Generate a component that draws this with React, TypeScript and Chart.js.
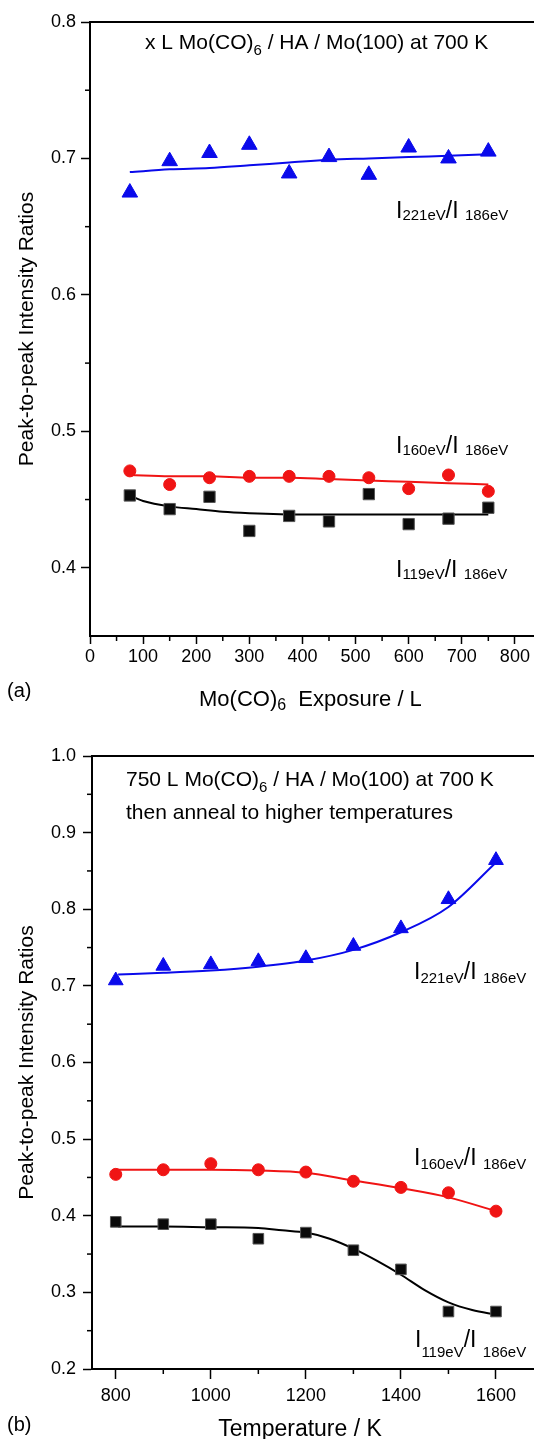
import React, { useEffect, useRef } from 'react';
import { Chart, registerables } from 'chart.js';

Chart.register(...registerables);

const FONT = '"Liberation Sans", Arial, Helvetica, sans-serif';

// ---------- Panel (a): exposure series ----------
const exposureL = [75, 150, 225, 300, 375, 450, 525, 600, 675, 750];
const ratioA221 = [0.675, 0.698, 0.704, 0.71, 0.689, 0.701, 0.688, 0.708, 0.7, 0.705];
const ratioA160 = [0.471, 0.461, 0.466, 0.467, 0.467, 0.467, 0.466, 0.458, 0.468, 0.456];
const ratioA119 = [0.453, 0.443, 0.452, 0.427, 0.438, 0.434, 0.454, 0.432, 0.436, 0.444];
const fitAX = [75, 150, 225, 300, 375, 450, 525, 600, 675, 750];
const fitA221 = [0.69, 0.692, 0.693, 0.695, 0.697, 0.699, 0.7, 0.701, 0.702, 0.703];
const fitA160 = [0.468, 0.467, 0.467, 0.466, 0.466, 0.465, 0.464, 0.463, 0.462, 0.461];
const fitA119X = [75, 100, 150, 200, 250, 300, 400, 500, 600, 700, 750];
const fitA119 = [0.453, 0.449, 0.445, 0.443, 0.441, 0.44, 0.439, 0.439, 0.439, 0.439, 0.439];
const exposureTicks = [0, 100, 200, 300, 400, 500, 600, 700, 800];
const exposureMinor = [50, 150, 250, 350, 450, 550, 650, 750];
const ratioATicks = [0.4, 0.5, 0.6, 0.7, 0.8];
const ratioAMinor = [0.45, 0.55, 0.65, 0.75];

// ---------- Panel (b): anneal temperature series ----------
const tempK = [800, 900, 1000, 1100, 1200, 1300, 1400, 1500, 1600];
const ratioB221 = [0.707, 0.726, 0.728, 0.732, 0.736, 0.752, 0.775, 0.813, 0.864];
const ratioB160 = [0.454, 0.46, 0.468, 0.46, 0.457, 0.445, 0.437, 0.43, 0.406];
const ratioB119 = [0.392, 0.389, 0.389, 0.37, 0.378, 0.355, 0.33, 0.275, 0.275];
const fitBX = [805, 900, 1000, 1100, 1200, 1300, 1400, 1500, 1600];
const fitB221 = [0.715, 0.717, 0.72, 0.725, 0.733, 0.747, 0.77, 0.803, 0.861];
const fitB160 = [0.46, 0.46, 0.46, 0.459, 0.456, 0.446, 0.436, 0.424, 0.406];
const fitB119X = [805, 900, 1000, 1100, 1150, 1200, 1250, 1300, 1350, 1400, 1450, 1500, 1550, 1600];
const fitB119 = [0.386, 0.386, 0.385, 0.384, 0.381, 0.378, 0.37, 0.357, 0.341, 0.323, 0.303, 0.287, 0.277, 0.271];
const tempTicks = [800, 1000, 1200, 1400, 1600];
const tempMinor = [900, 1100, 1300, 1500];
const ratioBTicks = [0.2, 0.3, 0.4, 0.5, 0.6, 0.7, 0.8, 0.9, 1.0];
const ratioBMinor = [0.25, 0.35, 0.45, 0.55, 0.65, 0.75, 0.85, 0.95];

const BLUE = 'rgb(10,10,235)';
const RED = 'rgb(240,20,20)';
const BLACK = '#000';

type Seg = [string, number, number];
type Note = { x: number; y: number; segs: Seg[]; align?: 'left' | 'center' };

function pts(xs: number[], ys: number[]) {
  return xs.map((x, i) => ({ x, y: ys[i] }));
}

function markers(label: string, xs: number[], ys: number[], style: string, color: string, radius: number, border: string) {
  return {
    label,
    data: pts(xs, ys),
    showLine: false,
    pointStyle: style,
    pointRadius: radius,
    pointBackgroundColor: color,
    pointBorderColor: border,
    pointBorderWidth: 1,
    order: 0,
  };
}

function fit(label: string, xs: number[], ys: number[], color: string) {
  return {
    label,
    data: pts(xs, ys),
    showLine: true,
    borderColor: color,
    borderWidth: 2,
    pointRadius: 0,
    cubicInterpolationMode: 'monotone',
    fill: false,
    order: 1,
  };
}

function segWidth(ctx: CanvasRenderingContext2D, segs: Seg[]) {
  let w = 0;
  for (const s of segs) {
    ctx.font = `${s[1]}px ${FONT}`;
    w += ctx.measureText(s[0]).width;
  }
  return w;
}

function drawSegs(ctx: CanvasRenderingContext2D, x: number, y: number, segs: Seg[]) {
  let cx = x;
  for (const s of segs) {
    ctx.font = `${s[1]}px ${FONT}`;
    ctx.fillText(s[0], cx, y + s[2]);
    cx += ctx.measureText(s[0]).width;
  }
}

type PanelSpec = {
  height: number;
  padTop: number;
  axisW: number;
  axisH: number;
  xMin: number;
  xMax: number;
  yMin: number;
  yMax: number;
  xTicks: number[];
  xMinor: number[];
  yTicks: number[];
  yMinor: number[];
  xTickLen: number;
  xPad: number;
  yTickLen: number;
  yPad: number;
  datasets: any[];
  notes: Note[];
  yTitle: string;
  yTitleX: number;
};

function zeroPad(s: any) {
  s.paddingLeft = 0;
  s.paddingRight = 0;
  s.paddingTop = 0;
  s.paddingBottom = 0;
}

function buildConfig(p: PanelSpec) {
  const extras = {
    id: 'extras',
    afterDraw(chart: any) {
      const ctx: CanvasRenderingContext2D = chart.ctx;
      const a = chart.chartArea;
      const xs = chart.scales.x;
      const ys = chart.scales.y;
      ctx.save();
      ctx.strokeStyle = '#000';
      ctx.lineWidth = 2;
      ctx.beginPath();
      ctx.moveTo(a.left - 1, a.top);
      ctx.lineTo(chart.width, a.top);
      ctx.stroke();
      ctx.lineWidth = 1.5;
      for (const v of p.xMinor) {
        const px = xs.getPixelForValue(v);
        if (px < a.left || px > a.right) continue;
        ctx.beginPath();
        ctx.moveTo(px, a.bottom);
        ctx.lineTo(px, a.bottom + 5);
        ctx.stroke();
      }
      for (const v of p.yMinor) {
        const py = ys.getPixelForValue(v);
        if (py < a.top || py > a.bottom) continue;
        ctx.beginPath();
        ctx.moveTo(a.left - 5, py);
        ctx.lineTo(a.left, py);
        ctx.stroke();
      }
      ctx.fillStyle = '#000';
      ctx.textBaseline = 'alphabetic';
      ctx.textAlign = 'left';
      for (const n of p.notes) {
        let x = n.x;
        if (n.align === 'center') x = n.x - segWidth(ctx, n.segs) / 2;
        drawSegs(ctx, x, n.y, n.segs);
      }
      ctx.translate(p.yTitleX, (a.top + a.bottom) / 2);
      ctx.rotate(-Math.PI / 2);
      ctx.textAlign = 'center';
      ctx.textBaseline = 'middle';
      ctx.font = `21px ${FONT}`;
      ctx.fillText(p.yTitle, 0, 0);
      ctx.restore();
    },
  };

  return {
    type: 'scatter',
    data: { datasets: p.datasets },
    options: {
      responsive: false,
      animation: false,
      events: [],
      layout: { autoPadding: false, padding: { top: p.padTop, left: 0, right: 0, bottom: 0 } },
      plugins: { legend: { display: false }, tooltip: { enabled: false }, title: { display: false } },
      scales: {
        x: {
          type: 'linear',
          min: p.xMin,
          max: p.xMax,
          afterBuildTicks: (s: any) => {
            s.ticks = p.xTicks.map((v) => ({ value: v }));
          },
          afterFit: (s: any) => {
            s.height = p.axisH;
            zeroPad(s);
          },
          ticks: {
            font: { size: 18, family: FONT },
            color: '#000',
            padding: p.xPad,
            maxRotation: 0,
            autoSkip: false,
            callback: (v: any) => String(v),
          },
          grid: { drawOnChartArea: false, drawTicks: true, tickLength: p.xTickLen, tickWidth: 1.5, tickColor: '#000' },
          border: { display: true, color: '#000', width: 2 },
        },
        y: {
          type: 'linear',
          min: p.yMin,
          max: p.yMax,
          afterBuildTicks: (s: any) => {
            s.ticks = p.yTicks.map((v) => ({ value: v }));
          },
          afterFit: (s: any) => {
            s.width = p.axisW;
            zeroPad(s);
          },
          ticks: {
            font: { size: 18, family: FONT },
            color: '#000',
            padding: p.yPad,
            autoSkip: false,
            callback: (v: any) => Number(v).toFixed(1),
          },
          grid: { drawOnChartArea: false, drawTicks: true, tickLength: p.yTickLen, tickWidth: 1.5, tickColor: '#000' },
          border: { display: true, color: '#000', width: 2 },
        },
      },
    },
    plugins: [extras],
  };
}

const ratioLabel = (x: number, y: number, a: string, sub: number, main = 23, small = 15): Note => ({
  x,
  y,
  segs: [
    ['I', main, 0],
    [a, small, sub],
    ['/I ', main, 0],
    ['186eV', small, sub],
  ],
});

const panelA: PanelSpec = {
  height: 716,
  padTop: 22,
  axisW: 90,
  axisH: 80,
  xMin: 0,
  xMax: 836,
  yMin: 0.35,
  yMax: 0.8,
  xTicks: exposureTicks,
  xMinor: exposureMinor,
  yTicks: ratioATicks,
  yMinor: ratioAMinor,
  xTickLen: 8,
  xPad: 2,
  yTickLen: 9,
  yPad: 5,
  datasets: [
    markers('I221/I186', exposureL, ratioA221, 'triangle', BLUE, 9, BLUE),
    markers('I160/I186', exposureL, ratioA160, 'circle', RED, 6, RED),
    markers('I119/I186', exposureL, ratioA119, 'rect', '#0a0a0a', 8, '#555'),
    fit('fit 221', fitAX, fitA221, BLUE),
    fit('fit 160', fitAX, fitA160, RED),
    fit('fit 119', fitA119X, fitA119, BLACK),
  ],
  notes: [
    {
      x: 145,
      y: 49,
      segs: [
        ['x L Mo(CO)', 21, 0],
        ['6', 15, 6],
        [' / HA / Mo(100) at 700 K', 21, 0],
      ],
    },
    ratioLabel(396, 218, '221eV', 2),
    ratioLabel(396, 453, '160eV', 2),
    ratioLabel(396, 577, '119eV', 2),
    { x: 7, y: 697, segs: [['(a)', 20, 0]] },
    {
      x: 199,
      y: 706,
      segs: [
        ['Mo(CO)', 22, 0],
        ['6', 16, 4],
        ['  Exposure / L', 22, 0],
      ],
    },
  ],
  yTitle: 'Peak-to-peak Intensity Ratios',
  yTitleX: 27,
};

const panelB: PanelSpec = {
  height: 723,
  padTop: 40,
  axisW: 92,
  axisH: 70,
  xMin: 750,
  xMax: 1680,
  yMin: 0.2,
  yMax: 1.0,
  xTicks: tempTicks,
  xMinor: tempMinor,
  yTicks: ratioBTicks,
  yMinor: ratioBMinor,
  xTickLen: 10,
  xPad: 6,
  yTickLen: 9,
  yPad: 7,
  datasets: [
    markers('I221/I186', tempK, ratioB221, 'triangle', BLUE, 8.5, BLUE),
    markers('I160/I186', tempK, ratioB160, 'circle', RED, 6, RED),
    markers('I119/I186', tempK, ratioB119, 'rect', '#0a0a0a', 7.5, '#555'),
    fit('fit 221', fitBX, fitB221, BLUE),
    fit('fit 160', fitBX, fitB160, RED),
    fit('fit 119', fitB119X, fitB119, BLACK),
  ],
  notes: [
    {
      x: 126,
      y: 70,
      segs: [
        ['750 L Mo(CO)', 21, 0],
        ['6', 15, 6],
        [' / HA / Mo(100) at 700 K', 21, 0],
      ],
    },
    { x: 126, y: 103, segs: [['then anneal to higher temperatures', 21, 0]] },
    ratioLabel(414, 263, '221eV', 4),
    ratioLabel(414, 449, '160eV', 4),
    ratioLabel(415, 631, '119eV', 10),
    { x: 7, y: 715, segs: [['(b)', 20, 0]] },
    { x: 300, y: 720, segs: [['Temperature / K', 23, 0]], align: 'center' },
  ],
  yTitle: 'Peak-to-peak Intensity Ratios',
  yTitleX: 27,
};

function Panel({ spec }: { spec: PanelSpec }) {
  const ref = useRef<HTMLCanvasElement | null>(null);
  useEffect(() => {
    if (!ref.current) return;
    const chart = new Chart(ref.current, buildConfig(spec) as any);
    return () => chart.destroy();
  }, [spec]);
  return <canvas ref={ref} width={534} height={spec.height} style={{ display: 'block', width: 534, height: spec.height }} />;
}

export default function App() {
  if (typeof document !== 'undefined') document.body.style.margin = '0';
  return (
    <div style={{ width: 534, background: '#fff' }}>
      <Panel spec={panelA} />
      <Panel spec={panelB} />
    </div>
  );
}
